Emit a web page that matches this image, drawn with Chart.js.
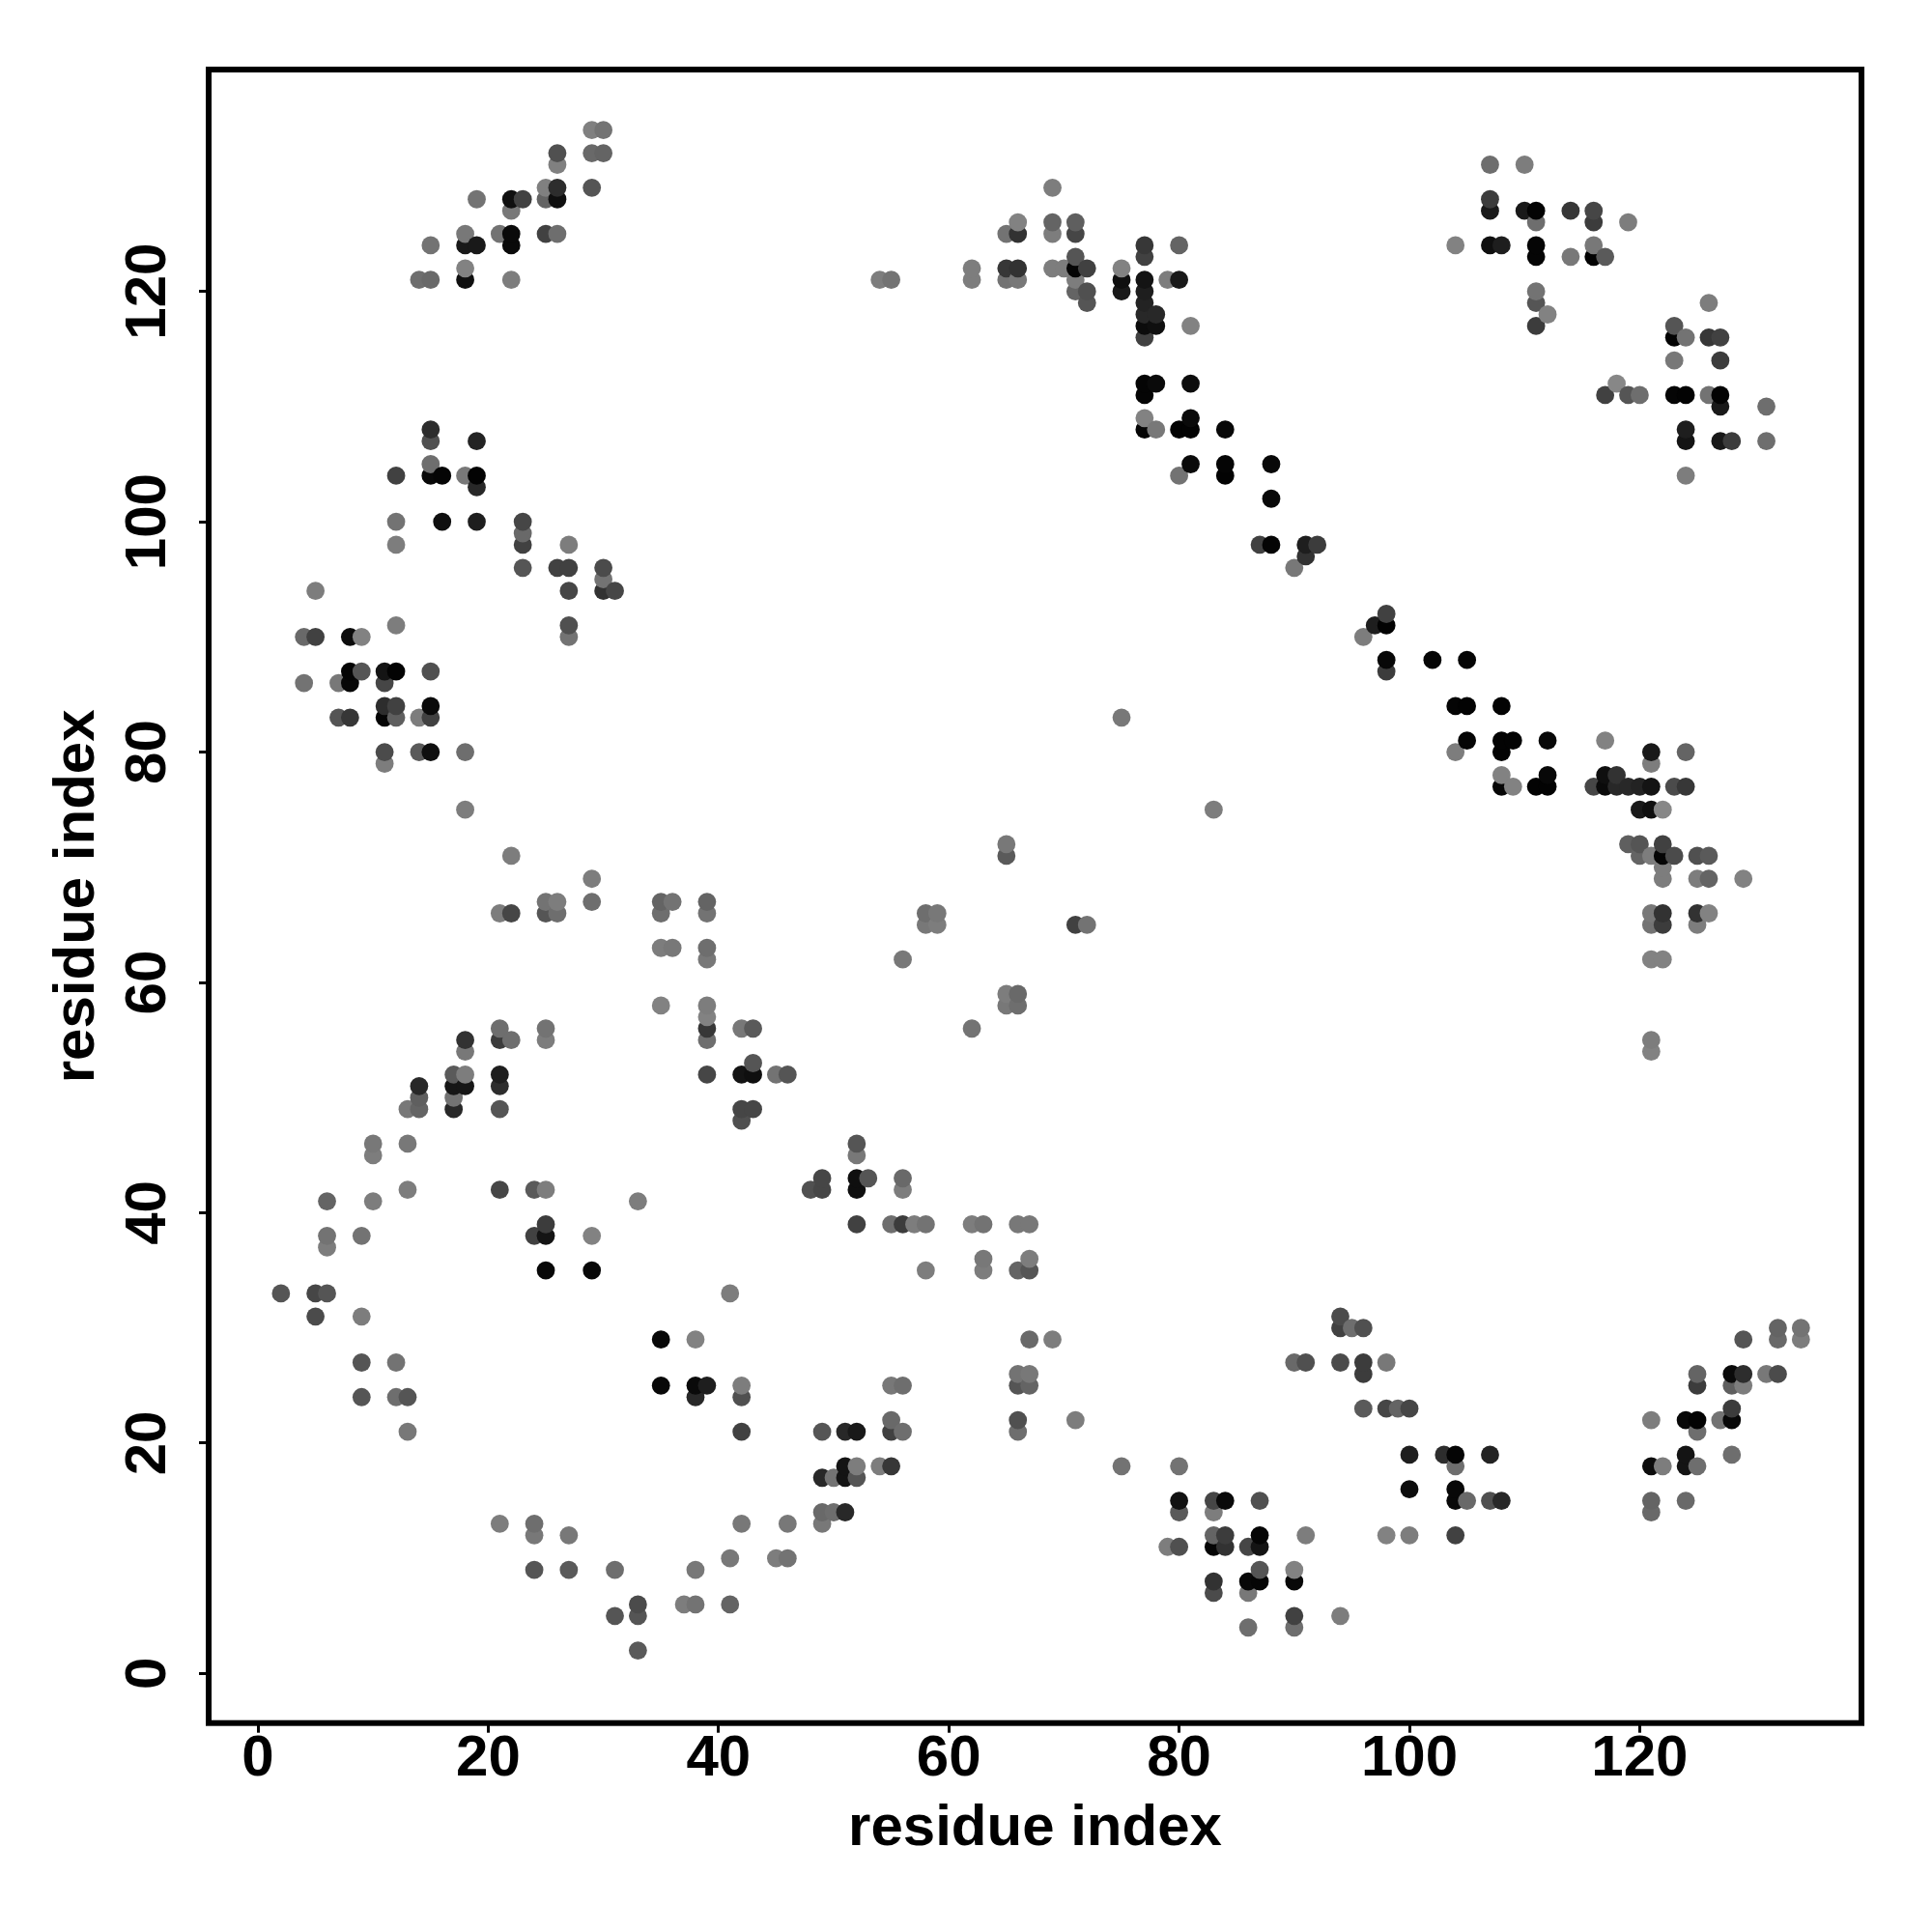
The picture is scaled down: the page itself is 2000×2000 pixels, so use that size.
<!DOCTYPE html>
<html>
<head>
<meta charset="utf-8">
<title>residue contacts</title>
<script src="https://cdn.jsdelivr.net/npm/chart.js@4"></script>
<style>
  html, body { margin: 0; padding: 0; background: #fff; }
  canvas { display: block; }
</style>
</head>
<body>
<canvas id="myChart" width="2000" height="2000"></canvas>
<script>
// one entry per residue on the x axis; partners and shades line up with it
const residueX = [
  2, 4, 5, 6, 7, 8, 9, 10, 11, 12,
  13, 14, 15, 16, 17, 18, 19, 21, 22, 23,
  24, 25, 26, 27, 29, 30, 31, 33, 35, 36,
  37, 38, 39, 41, 42, 43, 45, 46, 48, 49,
  50, 51, 52, 53, 54, 55, 56, 57, 58, 59,
  62, 63, 65, 66, 67, 69, 70, 71, 72, 75,
  77, 78, 79, 80, 81, 83, 84, 86, 87, 88,
  90, 91, 92, 94, 95, 96, 97, 98, 99, 100, 102,
  103, 104, 105, 107, 108, 109, 110, 111, 112, 114,
  116, 117, 118, 119, 120, 121, 122, 123, 124, 125,
  126, 127, 128, 129, 131, 132, 134
];
const partnerY = [
  [33], [86, 90], [31, 33, 90, 94], [33, 37, 38, 41], [83, 86], [83, 86, 87, 90],
  [24, 27, 31, 38, 87, 90], [41, 45, 46], [79, 80, 83, 84, 86, 87],
  [24, 27, 83, 84, 87, 91, 98, 100, 104],
  [21, 24, 42, 46, 49], [49, 50, 51, 80, 83, 121],
  [80, 83, 84, 87, 104, 105, 107, 108, 121, 124], [100, 104], [49, 50, 51, 52],
  [51, 52, 54, 55, 75, 80, 104, 121, 122, 124, 125], [100, 103, 104, 107, 124, 128],
  [13, 42, 49, 51, 52, 55, 56, 66, 125], [55, 66, 71, 121, 124, 125, 127, 128],
  [96, 98, 99, 100, 128],
  [9, 12, 13, 38, 42], [35, 38, 39, 42, 55, 56, 66, 67, 125, 128, 129],
  [66, 67, 96, 125, 128, 129, 131, 132], [9, 12, 90, 91, 94, 96, 98],
  [35, 38, 67, 69, 129, 132, 134], [94, 95, 96, 132, 134], [5, 9, 94],
  [2, 5, 6, 41], [25, 29, 58, 63, 66, 67], [63, 67],
  [6], [6, 9, 24, 25, 29], [25, 52, 55, 56, 57, 58, 62, 63, 66, 67], [6, 10, 33],
  [13, 21, 24, 25, 48, 49, 52, 56], [49, 52, 53, 56], [10, 52], [10, 13, 52], [42],
  [13, 14, 17, 21, 42, 43],
  [14, 17], [14, 17, 18, 21], [17, 18, 21, 39, 42, 43, 45, 46], [43], [18, 121],
  [18, 21, 22, 25, 39, 121], [21, 25, 39, 42, 43, 62], [39], [35, 39, 65, 66], [65, 66],
  [39, 56, 121, 122], [35, 36, 39], [58, 59, 71, 72, 121, 122, 125],
  [21, 22, 25, 26, 35, 39, 58, 59, 121, 122, 125, 126], [25, 26, 29, 35, 36, 39],
  [29, 122, 125, 126, 129], [122], [22, 65, 120, 121, 122, 123, 125, 126],
  [65, 119, 120, 122], [18, 83, 120, 121, 122],
  [108, 109, 111, 112, 116, 117, 118, 119, 120, 121, 123, 124], [108, 112, 117, 118],
  [11, 121], [11, 14, 15, 18, 104, 108, 121, 124], [105, 108, 109, 112, 117],
  [7, 8, 11, 12, 14, 15, 75], [11, 12, 15, 104, 105, 108], [4, 7, 8, 11],
  [8, 9, 11, 12, 15, 98], [98, 102, 105],
  [4, 5, 8, 9, 27, 96], [12, 27, 97, 98], [98], [5, 27, 30, 31], [30],
  [23, 26, 27, 30, 90], [91], [12, 23, 27, 87, 88, 91, 92], [23], [12, 16, 19, 23], [88],
  [19], [12, 15, 16, 18, 19, 80, 84, 124], [15, 81, 84, 88], [15, 19, 124, 127, 128, 131],
  [15, 77, 78, 80, 81, 84, 124], [77, 81], [127, 131],
  [77, 117, 119, 120, 123, 124, 126, 127], [77, 78, 81, 118], [123, 127],
  [77, 123, 124, 126, 127], [77, 78, 81, 111, 123], [77, 78, 112], [72, 77, 111, 126],
  [71, 72, 75, 77, 111], [14, 15, 18, 22, 54, 55, 62, 65, 66, 71, 75, 77, 79, 80],
  [18, 62, 65, 66, 69, 70, 71, 72, 75], [71, 77, 111, 114, 116, 117],
  [15, 18, 19, 22, 77, 80, 104, 107, 108, 111, 116],
  [18, 21, 22, 25, 26, 65, 66, 69, 71],
  [66, 69, 71, 111, 116, 119], [22, 107, 110, 111, 114, 116],
  [19, 22, 23, 25, 26, 107], [25, 26, 29, 69], [26, 107, 110], [26, 29, 30], [29, 30]
];
const contactShade = [
  [85], [115, 105], [75, 70, 65, 125], [85, 125, 115, 100], [85, 120], [55, 8, 5, 12],
  [85, 85, 125, 115, 85, 130], [125, 125, 120], [125, 75, 5, 45, 70, 20],
  [110, 115, 95, 65, 3, 125, 125, 115, 65],
  [120, 85, 125, 120, 120], [100, 95, 40, 90, 125, 110],
  [15, 65, 10, 80, 8, 110, 80, 45, 105, 115], [15, 5], [40, 115, 22, 90],
  [22, 125, 120, 50, 125, 110, 120, 15, 130, 25, 120], [30, 40, 3, 35, 25, 115],
  [125, 70, 85, 45, 30, 60, 110, 125, 115], [110, 70, 125, 125, 10, 10, 120, 15],
  [85, 65, 105, 70, 65],
  [85, 120, 110, 65, 90], [8, 20, 60, 125, 125, 115, 85, 115, 65, 100, 128],
  [110, 125, 65, 110, 15, 45, 128, 80], [90, 120, 115, 80, 70, 65, 125],
  [8, 130, 110, 125, 85, 105, 128], [50, 115, 75, 100, 115], [85, 110, 70],
  [90, 85, 75, 125], [8, 8, 130, 125, 110, 100], [120, 115],
  [125], [115, 120, 40, 10, 130], [30, 70, 110, 55, 130, 125, 120, 110, 115, 100], [100, 120, 125],
  [120, 65, 80, 125, 80, 70, 20, 120], [70, 15, 85, 90], [125, 115], [115, 120, 85], [80],
  [120, 105, 40, 85, 70, 70],
  [110, 115], [40, 20, 20, 40], [85, 125, 25, 65, 15, 15, 120, 85], [85], [125, 125],
  [55, 65, 105, 120, 110, 115], [110, 110, 60, 125, 105, 120], [125], [125, 115, 120, 110], [125, 120],
  [125, 115, 125, 125], [125, 120, 115], [120, 125, 90, 120, 115, 55, 115],
  [110, 80, 85, 115, 100, 120, 110, 105, 120, 50, 50, 130], [100, 120, 105, 85, 125, 120],
  [125, 125, 125, 100, 125], [125], [125, 65, 100, 125, 5, 85, 70, 95],
  [115, 85, 80, 65], [115, 120, 25, 15, 130],
  [5, 130, 5, 5, 65, 12, 40, 35, 30, 20, 65, 55], [120, 10, 15, 40],
  [125, 125], [80, 90, 18, 115, 115, 3, 25, 100], [10, 3, 10, 12, 130],
  [75, 50, 5, 100, 125, 70, 125], [50, 60, 10, 3, 5, 8], [110, 120, 8, 70],
  [5, 85, 20, 5, 80, 65], [5, 8, 8],
  [110, 65, 8, 130, 105, 120], [125, 80, 50, 30], [60], [125, 75, 65, 75], [110],
  [90, 60, 60, 80, 125], [30], [130, 70, 120, 60, 8, 3, 65], [100], [125, 12, 30, 70], [5],
  [45], [65, 8, 8, 110, 5, 125, 5, 130], [105, 5, 3, 5], [80, 35, 15, 25, 60, 110],
  [40, 5, 130, 3, 3, 3, 30], [130, 3], [25, 125],
  [3, 60, 85, 115, 5, 5, 110, 3], [3, 8, 8, 130], [120, 55],
  [70, 3, 120, 60, 70], [10, 15, 130, 65, 90], [40, 50, 135], [95, 40, 85, 125],
  [100, 85, 25, 35, 110], [105, 100, 12, 125, 130, 125, 130, 115, 120, 125, 15, 20, 125, 25],
  [125, 130, 60, 50, 125, 125, 5, 65, 135], [75, 75, 5, 120, 3, 85],
  [105, 20, 20, 8, 55, 100, 125, 20, 30, 3, 115],
  [110, 110, 3, 60, 100, 125, 50, 125, 80],
  [130, 100, 90, 115, 55, 125], [115, 25, 25, 3, 60, 65],
  [110, 8, 60, 95, 10, 60], [125, 45, 85, 130], [120, 110, 110], [75, 105, 100], [125, 115]
];
const tickStep = 20;
const xTitle = 'residue index';
const yTitle = 'residue index';

const points = [];
const colors = [];
residueX.forEach((x, index) => {
  partnerY[index].forEach((y, k) => {
    const g = contactShade[index][k];
    points.push({ x: x, y: y });
    colors.push(`rgb(${g},${g},${g})`);
  });
});

const frame = {
  id: 'frame',
  afterDatasetsDraw(chart) {
    const { ctx, chartArea: a } = chart;
    ctx.save();
    ctx.strokeStyle = '#000';
    ctx.lineWidth = 6;
    ctx.strokeRect(a.left, a.top, a.right - a.left, a.bottom - a.top);
    ctx.restore();
  }
};

const font = { family: '"Liberation Sans", Arial, sans-serif', size: 60, weight: 'bold' };

const ctx = document.getElementById('myChart').getContext('2d');
const myChart = new Chart(ctx, {
  type: 'scatter',
  data: {
    datasets: [{
      data: points,
      backgroundColor: colors,
      borderWidth: 0,
      pointRadius: 9.4,
      clip: false
    }]
  },
  options: {
    responsive: false,
    animation: false,
    layout: { padding: { top: 72, right: 73, left: 0, bottom: 0 } },
    plugins: { legend: { display: false }, tooltip: { enabled: false } },
    scales: {
      x: {
        type: 'linear',
        min: -4.28,
        max: 139.26,
        afterFit: scale => { scale.height = 216.3; },
        grid: { drawOnChartArea: false, tickLength: 10, tickWidth: 3, color: '#000' },
        border: { display: false },
        ticks: { stepSize: tickStep, includeBounds: false, color: '#000', font: font, padding: -8, maxRotation: 0, autoSkip: false },
        title: { display: true, text: xTitle, color: '#000', font: font, padding: { top: 0, bottom: 71 } }
      },
      y: {
        type: 'linear',
        min: -4.3,
        max: 139.26,
        afterFit: scale => { scale.width = 216; },
        grid: { drawOnChartArea: false, tickLength: 10, tickWidth: 3, color: '#000' },
        border: { display: false },
        ticks: { stepSize: tickStep, includeBounds: false, color: '#000', font: font, padding: 1, minRotation: 90, maxRotation: 90, crossAlign: 'center', autoSkip: false },
        title: { display: true, text: yTitle, color: '#000', font: font, padding: { top: 44, bottom: 0 } }
      }
    }
  },
  plugins: [frame]
});
</script>
</body>
</html>
